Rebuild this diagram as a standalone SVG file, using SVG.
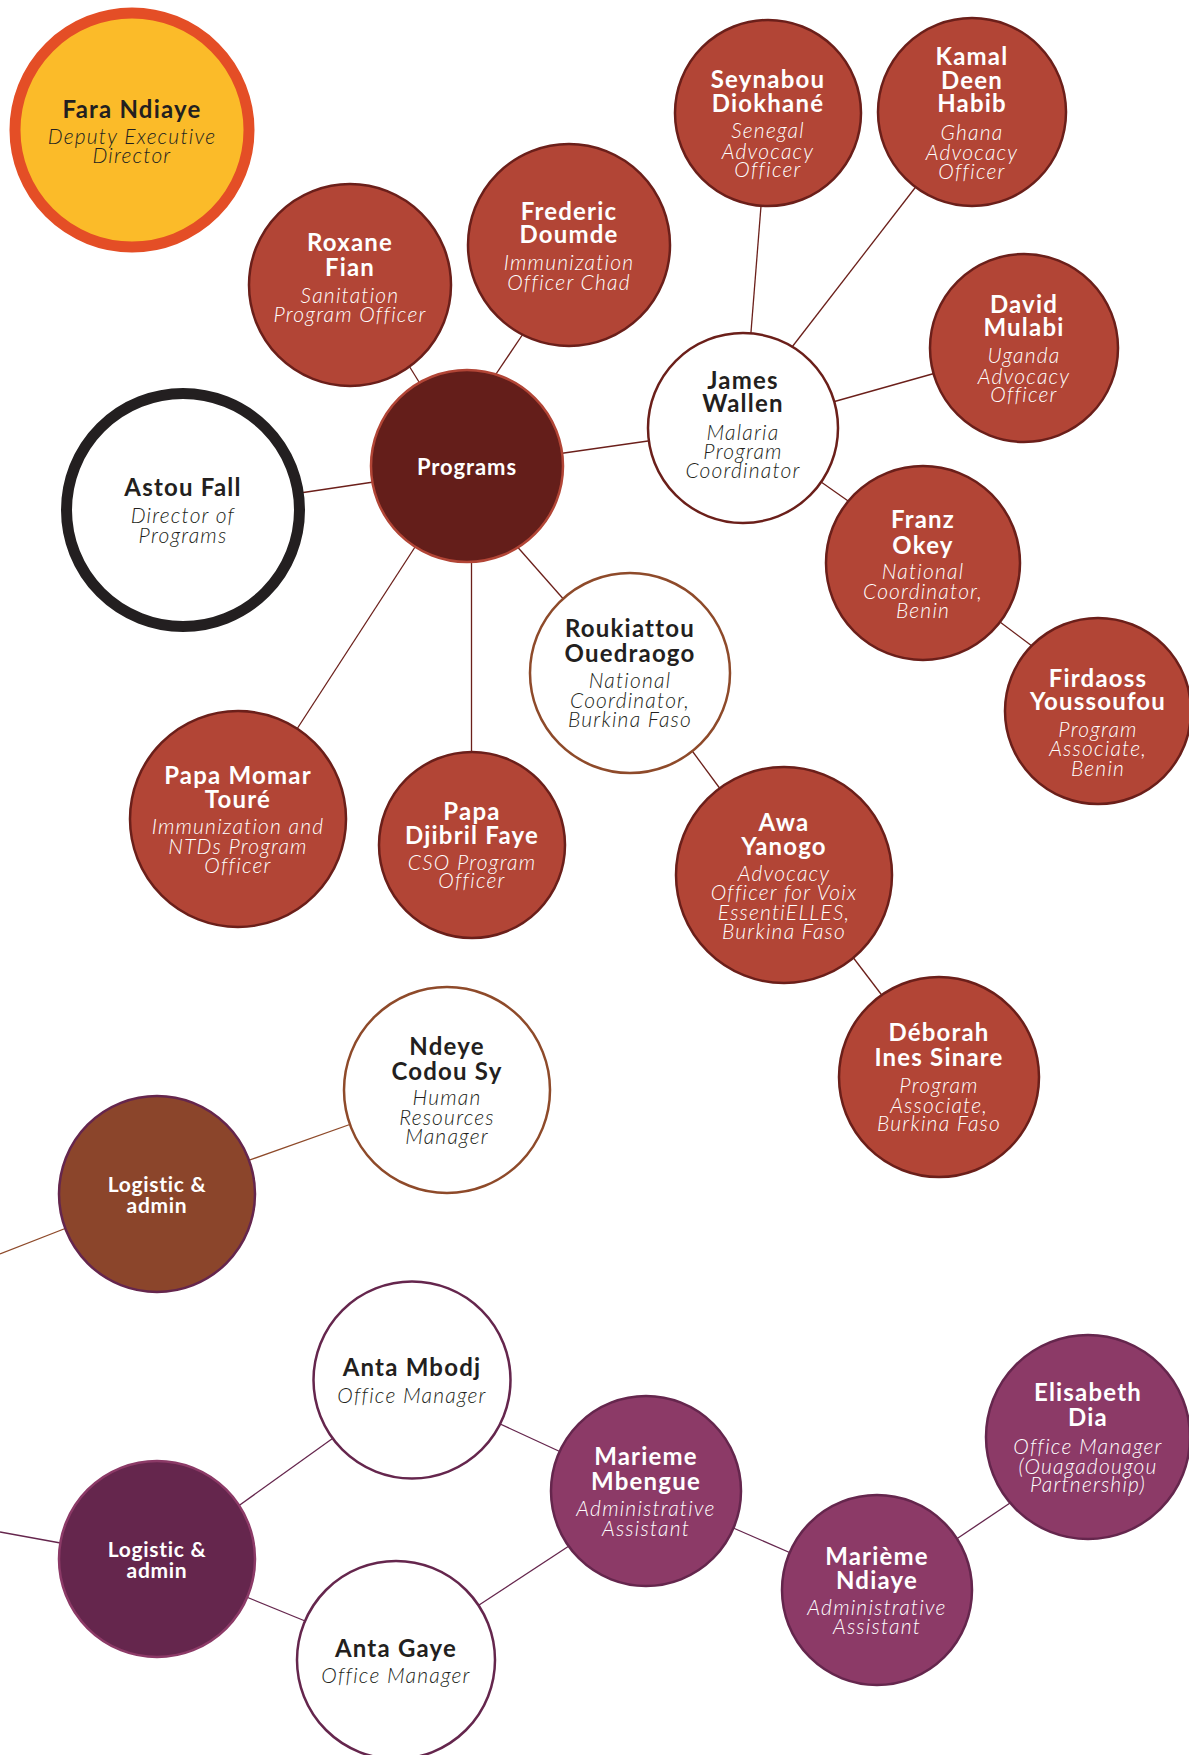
<svg xmlns="http://www.w3.org/2000/svg" width="1189" height="1755" viewBox="0 0 1189 1755">
<style>
.n{font-family:Lato,"Liberation Sans",sans-serif;font-weight:700;font-size:24px;letter-spacing:1.2px;text-anchor:middle}
.p{font-family:Lato,"Liberation Sans",sans-serif;font-weight:700;font-size:22px;letter-spacing:0.9px;text-anchor:middle}
.l{font-family:Lato,"Liberation Sans",sans-serif;font-weight:700;font-size:21px;letter-spacing:0.7px;text-anchor:middle}
.t{font-family:Lato,"Liberation Sans",sans-serif;font-style:italic;font-weight:300;font-size:21px;letter-spacing:1.2px;text-anchor:middle}
.w{fill:#ffffff}.d{fill:#231F20}
.red{fill:#B24536;stroke:#6B1F1A;stroke-width:2.5}
.wr{fill:#ffffff;stroke:#6B1F1A;stroke-width:2.5}
.wb{fill:#ffffff;stroke:#8E4A2A;stroke-width:2.5}
.wp{fill:#ffffff;stroke:#65264D;stroke-width:2.5}
.mag{fill:#8C3A67;stroke:#65264D;stroke-width:2.5}
.cr{stroke:#6B1F1A;stroke-width:1.3;fill:none}
.cb{stroke:#8E4A2A;stroke-width:1.3;fill:none}
.cp{stroke:#65264D;stroke-width:1.3;fill:none}
</style>
<rect width="1189" height="1755" fill="#ffffff"/>
<g id="connectors">
<line class="cr" x1="406" y1="361" x2="424" y2="390"/>
<line class="cr" x1="525" y1="331" x2="492" y2="380"/>
<line class="cr" x1="300" y1="493" x2="377" y2="481.5"/>
<line class="cr" x1="557" y1="454" x2="655" y2="440"/>
<line class="cr" x1="514" y1="543" x2="566" y2="602"/>
<line class="cr" x1="417" y1="544" x2="295" y2="732"/>
<line class="cr" x1="471.5" y1="558" x2="471.5" y2="756"/>
<line class="cr" x1="750.6" y1="337" x2="761.4" y2="201"/>
<line class="cr" x1="790.5" y1="349" x2="918" y2="184"/>
<line class="cr" x1="831" y1="402.5" x2="937.5" y2="372.5"/>
<line class="cr" x1="819" y1="480.5" x2="851" y2="503"/>
<line class="cr" x1="998" y1="620.5" x2="1035.6" y2="648.7"/>
<line class="cr" x1="690" y1="748" x2="721" y2="790"/>
<line class="cr" x1="852" y1="956" x2="884" y2="998"/>
<line class="cb" x1="244" y1="1162" x2="354" y2="1123"/>
<line class="cb" x1="0" y1="1254" x2="69" y2="1227"/>
<line class="cp" x1="0" y1="1532" x2="66" y2="1544"/>
<line class="cp" x1="237" y1="1507" x2="336" y2="1436"/>
<line class="cp" x1="244" y1="1596" x2="310" y2="1623"/>
<line class="cp" x1="498" y1="1423" x2="563" y2="1453"/>
<line class="cp" x1="476" y1="1607" x2="572" y2="1544"/>
<line class="cp" x1="731" y1="1527" x2="793" y2="1554"/>
<line class="cp" x1="955" y1="1540" x2="1013" y2="1501"/>
</g>
<g id="fara">
<circle cx="132" cy="130" r="117" fill="#FBBB29" stroke="#E44E26" stroke-width="11"/>
<text class="n d" x="132" y="118">Fara Ndiaye</text>
<text class="t d" x="132" y="144">Deputy Executive</text>
<text class="t d" x="132" y="163">Director</text>
</g>
<g id="roxane">
<circle class="red" cx="350" cy="285" r="101"/>
<text class="n w" x="350" y="251">Roxane</text>
<text class="n w" x="350" y="276">Fian</text>
<text class="t w" x="350" y="303">Sanitation</text>
<text class="t w" x="350" y="322">Program Officer</text>
</g>
<g id="frederic">
<circle class="red" cx="569" cy="245" r="101"/>
<text class="n w" x="569" y="220">Frederic</text>
<text class="n w" x="569" y="243">Doumde</text>
<text class="t w" x="569" y="270">Immunization</text>
<text class="t w" x="569" y="290">Officer Chad</text>
</g>
<g id="seynabou">
<circle class="red" cx="768" cy="113" r="93"/>
<text class="n w" x="768" y="88">Seynabou</text>
<text class="n w" x="768" y="112">Diokhané</text>
<text class="t w" x="768" y="138">Senegal</text>
<text class="t w" x="768" y="159">Advocacy</text>
<text class="t w" x="768" y="177">Officer</text>
</g>
<g id="kamal">
<circle class="red" cx="972" cy="112" r="94"/>
<text class="n w" x="972" y="65">Kamal</text>
<text class="n w" x="972" y="89">Deen</text>
<text class="n w" x="972" y="112">Habib</text>
<text class="t w" x="972" y="140">Ghana</text>
<text class="t w" x="972" y="160">Advocacy</text>
<text class="t w" x="972" y="179">Officer</text>
</g>
<g id="david">
<circle class="red" cx="1024" cy="348" r="94"/>
<text class="n w" x="1024" y="313">David</text>
<text class="n w" x="1024" y="336">Mulabi</text>
<text class="t w" x="1024" y="363">Uganda</text>
<text class="t w" x="1024" y="384">Advocacy</text>
<text class="t w" x="1024" y="402">Officer</text>
</g>
<g id="james">
<circle class="wr" cx="743" cy="428" r="95"/>
<text class="n d" x="743" y="389">James</text>
<text class="n d" x="743" y="412">Wallen</text>
<text class="t d" x="743" y="440">Malaria</text>
<text class="t d" x="743" y="459">Program</text>
<text class="t d" x="743" y="478">Coordinator</text>
</g>
<g id="programs">
<circle cx="467" cy="466" r="96" fill="#641E1A" stroke="#B24536" stroke-width="2.5"/>
<text class="p w" x="467" y="475">Programs</text>
</g>
<g id="astou">
<circle cx="183" cy="510" r="116.5" fill="#ffffff" stroke="#231F20" stroke-width="11"/>
<text class="n d" x="183" y="496">Astou Fall</text>
<text class="t d" x="183" y="523">Director of</text>
<text class="t d" x="183" y="543">Programs</text>
</g>
<g id="franz">
<circle class="red" cx="923" cy="563" r="97"/>
<text class="n w" x="923" y="528">Franz</text>
<text class="n w" x="923" y="554">Okey</text>
<text class="t w" x="923" y="579">National</text>
<text class="t w" x="923" y="599">Coordinator,</text>
<text class="t w" x="923" y="618">Benin</text>
</g>
<g id="firdaoss">
<circle class="red" cx="1098" cy="711" r="93"/>
<text class="n w" x="1098" y="687">Firdaoss</text>
<text class="n w" x="1098" y="710">Youssoufou</text>
<text class="t w" x="1098" y="737">Program</text>
<text class="t w" x="1098" y="756">Associate,</text>
<text class="t w" x="1098" y="776">Benin</text>
</g>
<g id="roukiattou">
<circle class="wb" cx="630" cy="673" r="100"/>
<text class="n d" x="630" y="637">Roukiattou</text>
<text class="n d" x="630" y="662">Ouedraogo</text>
<text class="t d" x="630" y="688">National</text>
<text class="t d" x="630" y="708">Coordinator,</text>
<text class="t d" x="630" y="727">Burkina Faso</text>
</g>
<g id="momar">
<circle class="red" cx="238" cy="819" r="108"/>
<text class="n w" x="238" y="784">Papa Momar</text>
<text class="n w" x="238" y="808">Touré</text>
<text class="t w" x="238" y="834">Immunization and</text>
<text class="t w" x="238" y="854">NTDs Program</text>
<text class="t w" x="238" y="873">Officer</text>
</g>
<g id="djibril">
<circle class="red" cx="472" cy="845" r="93"/>
<text class="n w" x="472" y="820">Papa</text>
<text class="n w" x="472" y="844">Djibril Faye</text>
<text class="t w" x="472" y="870">CSO Program</text>
<text class="t w" x="472" y="888">Officer</text>
</g>
<g id="awa">
<circle class="red" cx="784" cy="875" r="108"/>
<text class="n w" x="784" y="831">Awa</text>
<text class="n w" x="784" y="855">Yanogo</text>
<text class="t w" x="784" y="881">Advocacy</text>
<text class="t w" x="784" y="900">Officer for Voix</text>
<text class="t w" x="784" y="920">EssentiELLES,</text>
<text class="t w" x="784" y="939">Burkina Faso</text>
</g>
<g id="deborah">
<circle class="red" cx="939" cy="1077" r="100"/>
<text class="n w" x="939" y="1041">Déborah</text>
<text class="n w" x="939" y="1066">Ines Sinare</text>
<text class="t w" x="939" y="1093">Program</text>
<text class="t w" x="939" y="1113">Associate,</text>
<text class="t w" x="939" y="1131">Burkina Faso</text>
</g>
<g id="ndeye">
<circle class="wb" cx="447" cy="1090" r="103"/>
<text class="n d" x="447" y="1055">Ndeye</text>
<text class="n d" x="447" y="1080">Codou Sy</text>
<text class="t d" x="447" y="1105">Human</text>
<text class="t d" x="447" y="1125">Resources</text>
<text class="t d" x="447" y="1144">Manager</text>
</g>
<g id="logistic1">
<circle cx="157" cy="1194" r="98" fill="#8B452B" stroke="#65264D" stroke-width="2.5"/>
<text class="l w" x="157" y="1192">Logistic &amp;</text>
<text class="l w" x="157" y="1213">admin</text>
</g>
<g id="mbodj">
<circle class="wp" cx="412" cy="1380" r="98.5"/>
<text class="n d" x="412" y="1376">Anta Mbodj</text>
<text class="t d" x="412" y="1403">Office Manager</text>
</g>
<g id="logistic2">
<circle cx="157" cy="1559" r="98" fill="#65264D" stroke="#8C3A67" stroke-width="2.5"/>
<text class="l w" x="157" y="1557">Logistic &amp;</text>
<text class="l w" x="157" y="1578">admin</text>
</g>
<g id="gaye">
<circle class="wp" cx="396" cy="1660" r="99"/>
<text class="n d" x="396" y="1657">Anta Gaye</text>
<text class="t d" x="396" y="1683">Office Manager</text>
</g>
<g id="mbengue">
<circle class="mag" cx="646" cy="1491" r="95"/>
<text class="n w" x="646" y="1465">Marieme</text>
<text class="n w" x="646" y="1490">Mbengue</text>
<text class="t w" x="646" y="1516">Administrative</text>
<text class="t w" x="646" y="1536">Assistant</text>
</g>
<g id="mndiaye">
<circle class="mag" cx="877" cy="1590" r="95"/>
<text class="n w" x="877" y="1565">Marième</text>
<text class="n w" x="877" y="1589">Ndiaye</text>
<text class="t w" x="877" y="1615">Administrative</text>
<text class="t w" x="877" y="1634">Assistant</text>
</g>
<g id="elisabeth">
<circle class="mag" cx="1088" cy="1437" r="102"/>
<text class="n w" x="1088" y="1401">Elisabeth</text>
<text class="n w" x="1088" y="1426">Dia</text>
<text class="t w" x="1088" y="1454">Office Manager</text>
<text class="t w" x="1088" y="1474">(Ouagadougou</text>
<text class="t w" x="1088" y="1492">Partnership)</text>
</g>
</svg>
